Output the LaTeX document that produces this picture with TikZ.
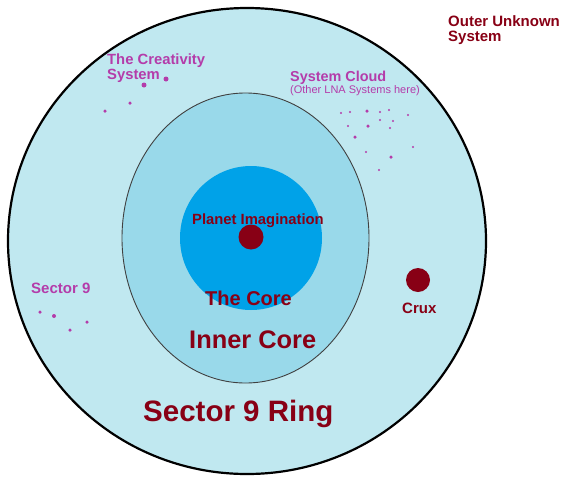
\documentclass[tikz,border=0pt]{standalone}
\usepackage{fontspec}
\setmainfont{Liberation Sans}
\definecolor{ringblue}{HTML}{C0E8F0}
\definecolor{innerblue}{HTML}{99D9EA}
\definecolor{coreblue}{HTML}{00A2E8}
\definecolor{darkred}{HTML}{880015}
\definecolor{mag}{HTML}{B43CAA}
\begin{document}
\begin{tikzpicture}[x=1pt,y=-1pt,
  lbl/.style={anchor=base west,inner sep=0pt,font=\bfseries},
  redlbl/.style={lbl,text=darkred},
  maglbl/.style={lbl,text=mag},
  speck/.style={circle,fill=mag,inner sep=0pt,minimum size=#1},
  speck/.default=2.5pt,
  planet/.style={circle,fill=darkred,inner sep=0pt,minimum size=25pt}]
\useasboundingbox (0,0) rectangle (576,480);
\fill[white] (0,0) rectangle (576,480);
% rings
\draw[line width=2.2pt,fill=ringblue] (247,241) ellipse [x radius=239,y radius=233];
\draw[line width=0.9pt,draw=black!75,fill=innerblue] (245.5,238) ellipse [x radius=123.5,y radius=145];
\fill[coreblue] (251,238) ellipse [x radius=71,y radius=72];
% planets
\node[planet] (imag) at (251,237) {};
\node[planet,minimum size=24pt] (crux) at (418,280) {};
% labels
\node[redlbl,font=\bfseries\fontsize{15}{15}\selectfont] (outer1) at (448,26) {Outer Unknown};
\node[redlbl,font=\bfseries\fontsize{15}{15}\selectfont] (outer2) at (448,41) {System};
\node[maglbl,font=\bfseries\fontsize{14.8}{15}\selectfont] (crea1) at (107,64) {The Creativity};
\node[maglbl,font=\bfseries\fontsize{14.8}{15}\selectfont] (crea2) at (107,79) {System};
\node[maglbl,font=\bfseries\fontsize{14.4}{15}\selectfont] (cloud1) at (290,81) {System Cloud};
\node[maglbl,font=\fontsize{11}{12}\selectfont] (cloud2) at (290,93) {(Other LNA Systems here)};
\node[maglbl,font=\bfseries\fontsize{15}{15}\selectfont] (sec9) at (31,293) {Sector 9};
\node[redlbl,font=\bfseries\fontsize{14.8}{15}\selectfont] (imaglbl) at (192,224) {Planet Imagination};
\node[redlbl,font=\bfseries\fontsize{20}{20}\selectfont] (corelbl) at (205,305) {The Core};
\node[redlbl,font=\bfseries\fontsize{25.4}{26}\selectfont] (innerlbl) at (189,348) {Inner Core};
\node[redlbl,font=\bfseries\fontsize{29.5}{30}\selectfont] (ringlbl) at (143,421) {Sector 9 Ring};
\node[redlbl,font=\bfseries\fontsize{15}{15}\selectfont] (cruxlbl) at (402,313) {Crux};
% creativity specks
\node[speck=5pt] (c1) at (166,79) {};
\node[speck=5pt] (c2) at (144,85) {};
\node[speck=3.5pt] (c3) at (130,103) {};
\node[speck=3.5pt] (c4) at (105,111) {};
% sector 9 specks
\node[speck=3.5pt] (s1) at (40,312) {};
\node[speck=4pt] (s2) at (54,316) {};
\node[speck=3.5pt] (s3) at (70,330) {};
\node[speck=3.5pt] (s4) at (87,322) {};
% system cloud specks
\node[speck=2.2pt] (k1) at (341,113) {};
\node[speck=2.2pt] (k2) at (350,112) {};
\node[speck=3.5pt] (k3) at (367,111) {};
\node[speck=2.2pt] (k4) at (380,112) {};
\node[speck=2.2pt] (k5) at (389,110) {};
\node[speck=2.2pt] (k6) at (408,115) {};
\node[speck=2.2pt] (k7) at (380,120) {};
\node[speck=2.2pt] (k8) at (393,121) {};
\node[speck=2.2pt] (k9) at (348,126) {};
\node[speck=3.5pt] (k10) at (368,126) {};
\node[speck=2.2pt] (k11) at (390,128) {};
\node[speck=3.5pt] (k12) at (355,137) {};
\node[speck=2.2pt] (k13) at (413,147) {};
\node[speck=2.2pt] (k14) at (366,152) {};
\node[speck=3.5pt] (k15) at (391,157) {};
\node[speck=2.2pt] (k16) at (379,170) {};
\end{tikzpicture}
\end{document}
